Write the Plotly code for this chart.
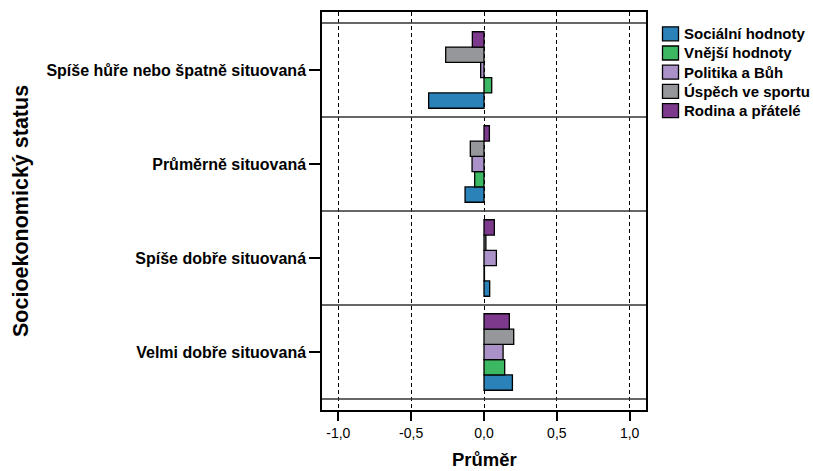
import plotly.graph_objects as go

categories = ["Spíše hůře nebo špatně situovaná", "Průměrně situovaná",
              "Spíše dobře situovaná", "Velmi dobře situovaná"]
series_names = ["Sociální hodnoty", "Vnější hodnoty", "Politika a Bůh",
                "Úspěch ve sportu", "Rodina a přátelé"]
# values per series, in category order
socialni = [-0.38, -0.13, 0.039, 0.195]
vnejsi = [0.053, -0.064, 0.003, 0.142]
politika = [-0.023, -0.082, 0.085, 0.131]
uspech = [-0.263, -0.094, 0.013, 0.204]
rodina = [-0.08, 0.037, 0.071, 0.174]
series_values = [socialni, vnejsi, politika, uspech, rodina]
colors = ["#2A82B9", "#3CB862", "#AA92C8", "#96979A", "#7D3A8D"]
x_ticks = [-1.0, -0.5, 0.0, 0.5, 1.0]
x_tick_labels = ["-1,0", "-0,5", "0,0", "0,5", "1,0"]

FONT = "Liberation Sans, Arial, sans-serif"

# layout geometry (pixels)
L, R, T, B = 322, 167, 12, 61
W, H = 813, 471
PW, PH = W - L - R, H - T - B


def px_x(px):
    return (px - L) / PW


def px_y(py):
    return (H - B - py) / PH


fig = go.Figure()
for name, vals, col in zip(series_names, series_values, colors):
    fig.add_trace(go.Bar(
        y=categories, x=vals, name=name, orientation="h", showlegend=False,
        marker=dict(color=col, line=dict(color="black", width=1.3)),
    ))

pad = 0.117
shapes = []
# category separator lines
for b in [-0.5, 0.5, 1.5, 2.5, 3.5]:
    shapes.append(dict(type="line", xref="paper", yref="y", x0=0, x1=1, y0=b, y1=b,
                       line=dict(color="#333333", width=1.5), layer="above"))

annotations = [
    dict(text="Průměr", xref="paper", yref="paper", x=0.5, y=0, yshift=-49,
         xanchor="center", yanchor="middle", showarrow=False,
         font=dict(size=18.5, weight="bold")),
    dict(text="Socioekonomický status", xref="paper", yref="paper", x=0,
         xshift=-301, y=0.5, xanchor="center", yanchor="middle",
         textangle=-90, showarrow=False, font=dict(size=21.5, weight="bold")),
]

# custom legend
for i, (name, col) in enumerate(zip(series_names, colors)):
    cy = 33.8 + 19.2 * i
    shapes.append(dict(type="rect", xref="paper", yref="paper",
                       x0=px_x(662.5), x1=px_x(678.5),
                       y0=px_y(cy + 7), y1=px_y(cy - 7),
                       fillcolor=col, line=dict(color="black", width=1.3)))
    annotations.append(dict(text=name, xref="paper", yref="paper",
                            x=px_x(682), y=px_y(cy), xanchor="left",
                            yanchor="middle", showarrow=False,
                            font=dict(size=15, weight="bold")))

fig.update_layout(
    width=W, height=H,
    margin=dict(l=L, r=R, t=T, b=B, autoexpand=False),
    paper_bgcolor="white", plot_bgcolor="white",
    barmode="group", bargap=0.186, bargroupgap=0,
    font=dict(family=FONT, color="black"),
    showlegend=False,
    xaxis=dict(range=[-1.112, 1.112], tickvals=x_ticks, ticktext=x_tick_labels,
               ticks="outside", ticklen=9, tickwidth=1.5, tickcolor="black",
               tickfont=dict(size=14), showgrid=True, gridcolor="black",
               griddash="4px,3px", gridwidth=1.2, zeroline=False,
               showline=True, linecolor="black", linewidth=1.5, mirror=True),
    yaxis=dict(categoryorder="array", categoryarray=categories[::-1],
               range=[-0.5 - pad, 3.5 + pad], ticks="outside", ticklen=11,
               tickwidth=1.5, tickcolor="black",
               tickfont=dict(size=16, weight="bold"), showgrid=False,
               zeroline=False, showline=True, linecolor="black", linewidth=1.5,
               mirror=True),
    shapes=shapes,
    annotations=annotations,
)

fig.write_html("out.html", config={"displayModeBar": False},
               post_script="document.body.style.margin='0px';")
